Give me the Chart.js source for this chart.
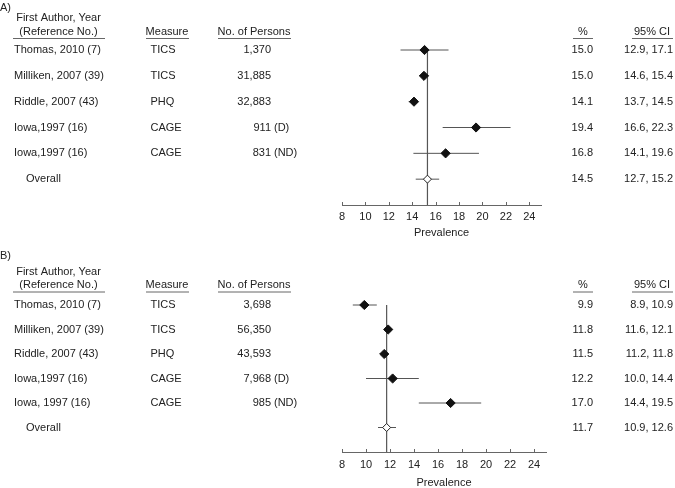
<!DOCTYPE html>
<html>
<head>
<meta charset="utf-8">
<script src="https://cdn.jsdelivr.net/npm/chart.js@4.4.1/dist/chart.umd.min.js"></script>
<style>
  body { margin: 0; background: #fff; }
  canvas { display: block; }
</style>
</head>
<body>
<canvas id="panelA" width="675" height="244"></canvas>
<canvas id="panelB" width="675" height="244"></canvas>
<script>
// Ticks del eje x (prevalencia)
const xTicks = [8, 10, 12, 14, 16, 18, 20, 22, 24];

// Panel A
const studiesA = ['Thomas, 2010 (7)', 'Milliken, 2007 (39)', 'Riddle, 2007 (43)', 'Iowa,1997 (16)', 'Iowa,1997 (16)', 'Overall'];
const measuresA = ['TICS', 'TICS', 'PHQ', 'CAGE', 'CAGE', ''];
const personsA = ['1,370', '31,885', '32,883', '911', '831', ''];
const groupA = ['', '', '', '(D)', '(ND)', ''];
const pctA = ['15.0', '15.0', '14.1', '19.4', '16.8', '14.5'];
const ciTextA = ['12.9, 17.1', '14.6, 15.4', '13.7, 14.5', '16.6, 22.3', '14.1, 19.6', '12.7, 15.2'];
const estA = [15.05, 15.0, 14.15, 19.45, 16.85, 15.3];
const lowA = [13.0, 14.6, 13.7, 16.6, 14.1, 14.3];
const highA = [17.1, 15.4, 14.5, 22.4, 19.7, 16.3];
const refA = 15.3;

// Panel B
const studiesB = ['Thomas, 2010 (7)', 'Milliken, 2007 (39)', 'Riddle, 2007 (43)', 'Iowa,1997 (16)', 'Iowa, 1997 (16)', 'Overall'];
const measuresB = ['TICS', 'TICS', 'PHQ', 'CAGE', 'CAGE', ''];
const personsB = ['3,698', '56,350', '43,593', '7,968', '985', ''];
const groupB = ['', '', '', '(D)', '(ND)', ''];
const pctB = ['9.9', '11.8', '11.5', '12.2', '17.0', '11.7'];
const ciTextB = ['8.9, 10.9', '11.6, 12.1', '11.2, 11.8', '10.0, 14.4', '14.4, 19.5', '10.9, 12.6'];
const estB = [9.86, 11.85, 11.52, 12.22, 17.05, 11.72];
const lowB = [8.9, 11.6, 11.2, 10.0, 14.4, 11.0];
const highB = [10.9, 12.1, 11.8, 14.4, 19.6, 12.5];
const refB = 11.72;

const FONT = '"Liberation Sans", Arial, Helvetica, sans-serif';
const TEXT = '#222';
const LINE = '#555';

function buildDatasets(est, low, high, ref) {
    const n = est.length - 1;
    const ds = [];
    // Diamantes de cada estudio
    ds.push({
        data: est.slice(0, n).map((v, i) => ({ x: v, y: i })),
        pointStyle: 'rectRot', pointRadius: 4.6,
        backgroundColor: '#111', borderColor: '#111', borderWidth: 1
    });
    // Diamante abierto del total
    ds.push({
        data: [{ x: est[n], y: n }],
        pointStyle: 'rectRot', pointRadius: 4,
        backgroundColor: '#fff', borderColor: '#222', borderWidth: 1
    });
    // Intervalos de confianza
    low.forEach((l, i) => {
        ds.push({
            data: [{ x: l, y: i }, { x: high[i], y: i }],
            showLine: true, borderColor: LINE, borderWidth: 1, pointRadius: 0
        });
    });
    // Linea vertical de referencia
    ds.push({
        data: [{ x: ref, y: 0 }, { x: ref, y: 6 }],
        showLine: true, borderColor: LINE, borderWidth: 1.2, pointRadius: 0
    });
    return ds;
}

function textPlugin(p) {
    return {
        id: 'forestText',
        afterDraw(chart) {
            const ctx = chart.ctx;
            const xs = chart.scales.x;
            const ys = chart.scales.y;
            ctx.save();

            // marcas del eje hacia arriba
            ctx.strokeStyle = '#666';
            ctx.lineWidth = 1;
            xs.ticks.forEach(t => {
                const px = Math.round(xs.getPixelForValue(t.value)) + 0.5;
                ctx.beginPath();
                ctx.moveTo(px, xs.top);
                ctx.lineTo(px, xs.top - 3);
                ctx.stroke();
            });

            ctx.font = '11px ' + FONT;
            ctx.fillStyle = TEXT;
            ctx.textBaseline = 'middle';

            // encabezados
            ctx.textAlign = 'left';
            ctx.fillText(p.tag, 0, p.tagY);
            ctx.textAlign = 'center';
            ctx.fillText('First Author, Year', 58.5, p.head1Y);
            ctx.fillText('(Reference No.)', 58.5, p.head2Y);
            ctx.fillText('Measure', 167, p.head2Y);
            ctx.fillText('No. of Persons', 254, p.head2Y);
            ctx.fillText('%', 583, p.head2Y);
            ctx.fillText('95% CI', 652, p.head2Y);

            ctx.strokeStyle = '#666';
            [[13, 105], [146, 189], [218, 291], [573, 593], [632, 673]].forEach(([a, b]) => {
                ctx.beginPath();
                ctx.moveTo(a, p.lineY + 0.5);
                ctx.lineTo(b, p.lineY + 0.5);
                ctx.stroke();
            });

            // filas
            p.studies.forEach((s, i) => {
                const py = ys.getPixelForValue(i);
                ctx.textAlign = 'left';
                ctx.fillText(s, i === p.studies.length - 1 ? 26 : 14, py);
                ctx.fillText(p.measures[i], 150.5, py);
                ctx.textAlign = 'right';
                ctx.fillText(p.persons[i], 271, py);
                ctx.textAlign = 'left';
                if (p.groups[i]) ctx.fillText(p.groups[i], 274, py);
                ctx.textAlign = 'right';
                ctx.fillText(p.pct[i], 593, py);
                ctx.fillText(p.ci[i], 673, py);
            });
            ctx.restore();
        }
    };
}

function dibujarPanel(id, p) {
    const ctx = document.getElementById(id).getContext('2d');
    new Chart(ctx, {
        type: 'scatter',
        data: { datasets: buildDatasets(p.est, p.low, p.high, p.ref) },
        options: {
            responsive: false,
            animation: false,
            layout: { padding: { left: 342, right: p.right, top: p.top, bottom: 0 } },
            plugins: { legend: { display: false }, tooltip: { enabled: false } },
            scales: {
                x: {
                    type: 'linear', min: 8, max: 25,
                    afterBuildTicks: s => { s.ticks = xTicks.map(v => ({ value: v })); },
                    afterFit: s => { s.height = p.axisHeight; },
                    grid: { display: false, drawTicks: false },
                    border: { display: true, color: '#666', width: 1 },
                    ticks: { padding: p.tickPad, color: TEXT, maxRotation: 0, autoSkip: false, font: { family: FONT, size: 11 } },
                    title: { display: true, text: 'Prevalence', color: TEXT, font: { family: FONT, size: 11 }, padding: { top: 0, bottom: p.titlePad } }
                },
                y: { type: 'linear', display: false, min: -0.5, max: 6, reverse: true }
            }
        },
        plugins: [textPlugin(p)]
    });
}

dibujarPanel('panelA', {
    tag: 'A)', tagY: 8, head1Y: 17.5, head2Y: 32, lineY: 38,
    studies: studiesA, measures: measuresA, persons: personsA, groups: groupA,
    pct: pctA, ci: ciTextA, est: estA, low: lowA, high: highA, ref: refA,
    top: 37.1, right: 134, axisHeight: 39, tickPad: 5, titlePad: 4
});

dibujarPanel('panelB', {
    tag: 'B)', tagY: 11.7, head1Y: 27.7, head2Y: 41, lineY: 47.5,
    studies: studiesB, measures: measuresB, persons: personsB, groups: groupB,
    pct: pctB, ci: ciTextB, est: estB, low: lowB, high: highB, ref: refB,
    top: 48.75, right: 129, axisHeight: 36, tickPad: 6, titlePad: -1.5
});
</script>
</body>
</html>
